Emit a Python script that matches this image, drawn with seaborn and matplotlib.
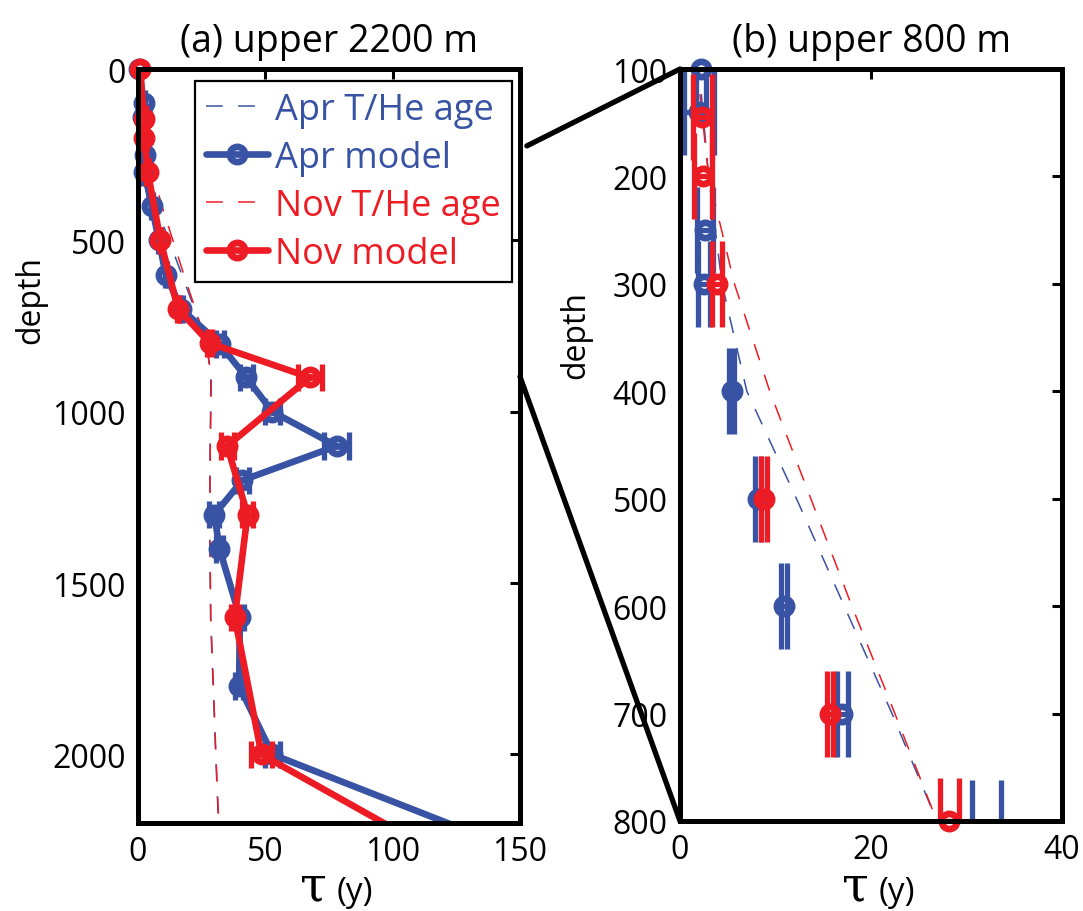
import matplotlib
matplotlib.use("Agg")
import matplotlib.pyplot as plt
import seaborn as sns
from matplotlib.lines import Line2D
from matplotlib.patches import ConnectionPatch

sns.set_theme(style="white")
plt.rcParams['font.family'] = ['Open Sans', 'DejaVu Sans']
plt.rcParams['text.color'] = 'black'
plt.rcParams['axes.labelcolor'] = 'black'
plt.rcParams['axes.titlecolor'] = 'black'

APR = "#3953A4"
NOV = "#ED1C24"

# April model ages: depth (m), tau (y), half-width of the uncertainty (y)
apr_depth = [0, 100, 140, 250, 300, 400, 500, 600, 700, 802, 900, 1000, 1100,
             1200, 1300, 1400, 1600, 1800, 2000, 2500]
apr_tau = [0.5, 2.2, 2.0, 2.6, 2.5, 5.4, 8.2, 10.9, 17.0, 32.1, 42.5, 52.8, 78.0,
           41.0, 30.0, 32.0, 40.0, 39.7, 52.8, 224.6]
apr_err = [0.3, 0.5, 1.6, 0.85, 0.6, 0.3, 0.3, 0.3, 0.55, 1.5, 2.5, 3.0, 5.0,
           2.5, 2.0, 1.5, 1.5, 1.5, 3.0, 0.0]

# November model ages
nov_depth = [0, 145, 200, 300, 500, 700, 800, 900, 1100, 1300, 1600, 2000, 2500]
nov_tau = [0.8, 2.35, 2.4, 3.85, 8.8, 15.7, 28.2, 67.5, 35.0, 43.0, 38.0, 48.5, 168.5]
nov_err = [0.3, 0.95, 0.95, 0.55, 0.3, 0.3, 1.0, 4.7, 2.5, 2.0, 1.5, 4.0, 0.0]

# T/He ages
apr_the_depth = [0, 100, 200, 300, 400, 500, 600, 700, 800, 900, 1000, 1100,
                 1200, 1400, 1600, 1800, 2000, 2200]
apr_the_tau = [0.0, 2.0, 3.0, 4.4, 7.0, 12.2, 17.2, 22.2, 26.9, 28.6, 28.5, 28.3,
               28.2, 28.2, 28.5, 29.5, 30.5, 31.6]
nov_the_depth = [0, 100, 200, 300, 400, 500, 600, 700, 800, 900, 1000, 1100,
                 1200, 1400, 1600, 1800, 2000, 2200]
nov_the_tau = [0.0, 1.8, 3.0, 5.7, 9.4, 13.7, 18.0, 22.5, 26.9, 28.8, 28.6, 28.4,
               28.3, 28.3, 28.6, 29.6, 30.6, 31.7]

panel_titles = ["(a) upper 2200 m", "(b) upper 800 m"]
panel_xlim = [(0, 150), (0, 40)]
panel_ylim = [(0, 2200), (100, 800)]
panel_xticks = [[0, 50, 100, 150], [0, 20, 40]]
panel_yticks = [[0, 500, 1000, 1500, 2000], [100, 200, 300, 400, 500, 600, 700, 800]]
legend_labels = ["Apr T/He age", "Apr model", "Nov T/He age", "Nov model"]

CAP_HALF = 40  # vertical half-length of error-bar caps, in metres
LINE_W = 4.8
CAP_W = 3.8
MS, MEW = 11, 4.8
W, H = 1083, 912

fig = plt.figure(figsize=(W / 100, H / 100), dpi=100)
axL = fig.add_axes([138 / W, (H - 824) / H, 382 / W, 754 / H])
axR = fig.add_axes([680 / W, (H - 822) / H, 382 / W, 752 / H])


def draw_model(ax, depth, tau, err, color, z, ylim, connect):
    if connect:
        sns.lineplot(x=tau, y=depth, sort=False, estimator=None, color=color,
                     lw=LINE_W, ax=ax, zorder=z, legend=False)
    lo = [t - e for t, e in zip(tau, err)]
    hi = [t + e for t, e in zip(tau, err)]
    ax.hlines(depth, lo, hi, color=color, lw=LINE_W if connect else CAP_W, zorder=z)
    for edge in (lo, hi):
        ax.vlines(edge, [d - CAP_HALF for d in depth], [d + CAP_HALF for d in depth],
                  color=color, lw=CAP_W, zorder=z)
    inside = [(t, d) for t, d in zip(tau, depth) if ylim[0] <= d <= ylim[1]]
    ax.plot([p[0] for p in inside], [p[1] for p in inside], 'o', ms=MS,
            mfc='none', mec=color, mew=MEW, clip_on=False, zorder=z + 0.5)


def draw_the(ax, depth, tau, color, z):
    sns.lineplot(x=tau, y=depth, sort=False, estimator=None, color=color,
                 lw=1.1, ax=ax, zorder=z, legend=False)
    ax.lines[-1].set_dashes((11, 10))


for i, ax in enumerate([axL, axR]):
    connect = (i == 0)
    draw_the(ax, apr_the_depth, apr_the_tau, APR, 1)
    draw_the(ax, nov_the_depth, nov_the_tau, NOV, 1.2)
    draw_model(ax, apr_depth, apr_tau, apr_err, APR, 2, panel_ylim[i], connect)
    draw_model(ax, nov_depth, nov_tau, nov_err, NOV, 3, panel_ylim[i], connect)

    ax.set_xlim(*panel_xlim[i])
    ax.set_ylim(panel_ylim[i][1], panel_ylim[i][0])
    ax.set_xticks(panel_xticks[i])
    ax.set_yticks(panel_yticks[i])
    ax.set_xlabel("")
    ax.set_ylabel("depth", fontsize=23)
    ax.set_title(panel_titles[i], fontsize=27, pad=13)
    ax.tick_params(direction='in', length=7, width=2.2, top=True, right=True,
                   labelsize=23, pad=9, colors='black')
    for sp in ax.spines.values():
        sp.set_linewidth(3.6)
        sp.set_color('black')
        sp.set_zorder(5)

    # tau (y) axis label, composed of a large tau and the unit
    pos = ax.get_position()
    cx = (pos.x0 + pos.x1) / 2
    fig.text(cx - 2 / W, 11 / H, "τ", ha='right', va='baseline', fontsize=35,
             family='DejaVu Serif')
    fig.text(cx + 8 / W, 11 / H, "(y)", ha='left', va='baseline', fontsize=24)

axL.yaxis.set_label_coords(-0.238, 0.695)
axR.yaxis.set_label_coords(-0.230, 0.648)

handles = [
    Line2D([], [], color=APR, lw=1.1, dashes=(11, 10)),
    Line2D([], [], color=APR, lw=LINE_W, marker='o', ms=MS, mfc='none', mew=MEW),
    Line2D([], [], color=NOV, lw=1.1, dashes=(11, 10)),
    Line2D([], [], color=NOV, lw=LINE_W, marker='o', ms=MS, mfc='none', mew=MEW),
]
leg = axL.legend(handles, legend_labels, loc='upper right',
                 bbox_to_anchor=(0.979, 0.984), borderaxespad=0, frameon=True,
                 fancybox=False, edgecolor='black', framealpha=1, fontsize=26,
                 handlelength=1.72, handletextpad=0.2, labelspacing=0.33,
                 borderpad=0.3)
leg.get_frame().set_linewidth(1.6)
leg.set_zorder(6)
for txt, c in zip(leg.get_texts(), [APR, APR, NOV, NOV]):
    txt.set_color(c)

# zoom connectors between the two panels
for ya, yb, xa in [(0.898, 1.0, 1.018), (0.592, 0.0, 1.0)]:
    con = ConnectionPatch(xyA=(xa, ya), coordsA=axL.transAxes,
                          xyB=(0.0, yb), coordsB=axR.transAxes,
                          color='black', lw=3.8)
    fig.add_artist(con)

fig.savefig("out.png", dpi=100)
